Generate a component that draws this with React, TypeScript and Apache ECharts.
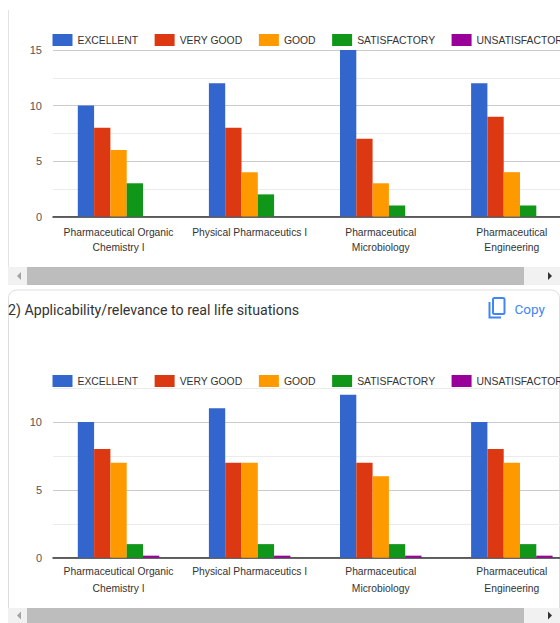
import React, { useEffect, useRef } from "react";
import * as echarts from "echarts";

const categories = [
  "Pharmaceutical Organic\nChemistry I",
  "Physical Pharmaceutics I",
  "Pharmaceutical\nMicrobiology",
  "Pharmaceutical\nEngineering",
];
const ratingNames = ["EXCELLENT", "VERY GOOD", "GOOD", "SATISFACTORY", "UNSATISFACTORY"];
const ratingColors = ["#3366cc", "#dc3912", "#ff9900", "#109618", "#990099"];

const topExcellent = [10, 12, 15, 12];
const topVeryGood = [8, 8, 7, 9];
const topGood = [6, 4, 3, 4];
const topSatisfactory = [3, 2, 1, 1];
const topUnsatisfactory = [0, 0, 0, 0];

const bottomExcellent = [10, 11, 12, 10];
const bottomVeryGood = [8, 7, 7, 8];
const bottomGood = [7, 7, 6, 7];
const bottomSatisfactory = [1, 1, 1, 1];
const bottomUnsatisfactory = [0.15, 0.15, 0.15, 0.15];

const topSeries = [topExcellent, topVeryGood, topGood, topSatisfactory, topUnsatisfactory];
const bottomSeries = [bottomExcellent, bottomVeryGood, bottomGood, bottomSatisfactory, bottomUnsatisfactory];

const titleText = "2) Applicability/relevance to real life situations";
const FONT = '"Liberation Sans", Arial, sans-serif';

function scrollbar(y: number, h: number) {
  const mid = y + h / 2;
  return [
    { type: "rect", shape: { x: 8, y, width: 552, height: h }, style: { fill: "#f1f1f1" } },
    { type: "rect", shape: { x: 27, y, width: 497, height: h }, style: { fill: "#bdbdbd" } },
    { type: "polygon", shape: { points: [[21, mid - 4], [21, mid + 4], [17, mid]] }, style: { fill: "#a3a3a3" } },
    { type: "polygon", shape: { points: [[548, mid - 4], [548, mid + 4], [552, mid]] }, style: { fill: "#333333" } },
  ];
}

export default function App() {
  const ref = useRef<HTMLDivElement>(null);
  useEffect(() => {
    document.body.style.margin = "0";
    const chart = echarts.init(ref.current!, undefined, { renderer: "svg" });
    const xAxis = (gridIndex: number, margin: number, lineHeight: number) => ({
      type: "category",
      gridIndex,
      data: categories,
      axisTick: { show: false },
      axisLine: { lineStyle: { color: "#333333", width: 1.5 } },
      axisLabel: {
        interval: 0,
        margin,
        lineHeight,
        fontSize: 10.3,
        color: "#333333",
        fontFamily: FONT,
      },
    });
    const lightAxis = (gridIndex: number, max: number) => ({
      type: "value",
      gridIndex,
      position: "left",
      min: 0,
      max,
      interval: 2.5,
      axisLine: { show: false },
      axisTick: { show: false },
      axisLabel: { show: false },
      splitLine: { lineStyle: { color: "#ebebeb", width: 1 } },
    });
    const mainAxis = (gridIndex: number, max: number, showTop: boolean) => ({
      type: "value",
      gridIndex,
      position: "left",
      min: 0,
      max,
      interval: 5,
      axisLine: { show: false },
      axisTick: { show: false },
      axisLabel: { fontSize: 11, color: "#555555", margin: 11, fontFamily: FONT, showMaxLabel: showTop },
      splitLine: { showMaxLine: showTop, lineStyle: { color: "#cccccc", width: 1 } },
    });
    const barSeries = (rows: number[][], xAxisIndex: number, yAxisIndex: number) =>
      rows.map((data, i) => ({
        type: "bar",
        name: ratingNames[i],
        data,
        xAxisIndex,
        yAxisIndex,
        barWidth: 16.3,
        barGap: 0,
        itemStyle: { color: ratingColors[i] },
      }));
    const legend = (top: number) => ({
      left: 52.5,
      top,
      padding: 0,
      orient: "horizontal",
      width: 640,
      data: ratingNames,
      itemWidth: 20,
      itemHeight: 12,
      itemGap: 16.5,
      icon: "rect",
      selectedMode: false,
      textStyle: { fontSize: 10.4, color: "#333333", fontFamily: FONT },
    });
    chart.setOption({
      animation: false,
      backgroundColor: "#ffffff",
      legend: [legend(34), legend(375)],
      grid: [
        { left: 53, top: 50, width: 524.4, height: 166.6 },
        { left: 53, top: 388, width: 524.4, height: 169.7 },
      ],
      xAxis: [xAxis(0, 8, 15.5), xAxis(1, 6, 16.5)],
      yAxis: [lightAxis(0, 15), mainAxis(0, 15, true), lightAxis(1, 12.5), mainAxis(1, 12.5, false)],
      series: [...barSeries(topSeries, 0, 1), ...barSeries(bottomSeries, 1, 3)],
      graphic: [
        { type: "line", shape: { x1: 8.5, y1: 10, x2: 8.5, y2: 285 }, style: { stroke: "#e3e3e3", lineWidth: 1 } },
        ...scrollbar(267, 18),
        {
          type: "rect",
          shape: { x: 8.5, y: 290, width: 551, height: 345, r: 8 },
          style: { fill: "none", stroke: "#dedede", lineWidth: 1 },
          z: -1,
        },
        ...scrollbar(608, 15),
        {
          type: "text",
          x: 8,
          y: 310,
          style: { text: titleText, fontSize: 14.2, fontFamily: "Roboto, sans-serif", fill: "#333333", verticalAlign: "middle" },
        },
        {
          type: "rect",
          shape: { x: 493, y: 298, width: 11.5, height: 16, r: 1.5 },
          style: { fill: "none", stroke: "#4285f4", lineWidth: 2 },
        },
        {
          type: "polyline",
          shape: { points: [[489.5, 302], [489.5, 317.5], [501, 317.5]] },
          style: { fill: "none", stroke: "#4285f4", lineWidth: 2 },
        },
        {
          type: "text",
          x: 514.5,
          y: 308.5,
          style: { text: "Copy", fontSize: 13.5, fontFamily: "Roboto, sans-serif", fill: "#4285f4", verticalAlign: "middle" },
        },
      ],
    });
    return () => chart.dispose();
  }, []);
  return (
    <div style={{ width: 560, height: 623, overflow: "hidden", position: "relative" }}>
      <div ref={ref} style={{ width: 640, height: 623 }} />
    </div>
  );
}
